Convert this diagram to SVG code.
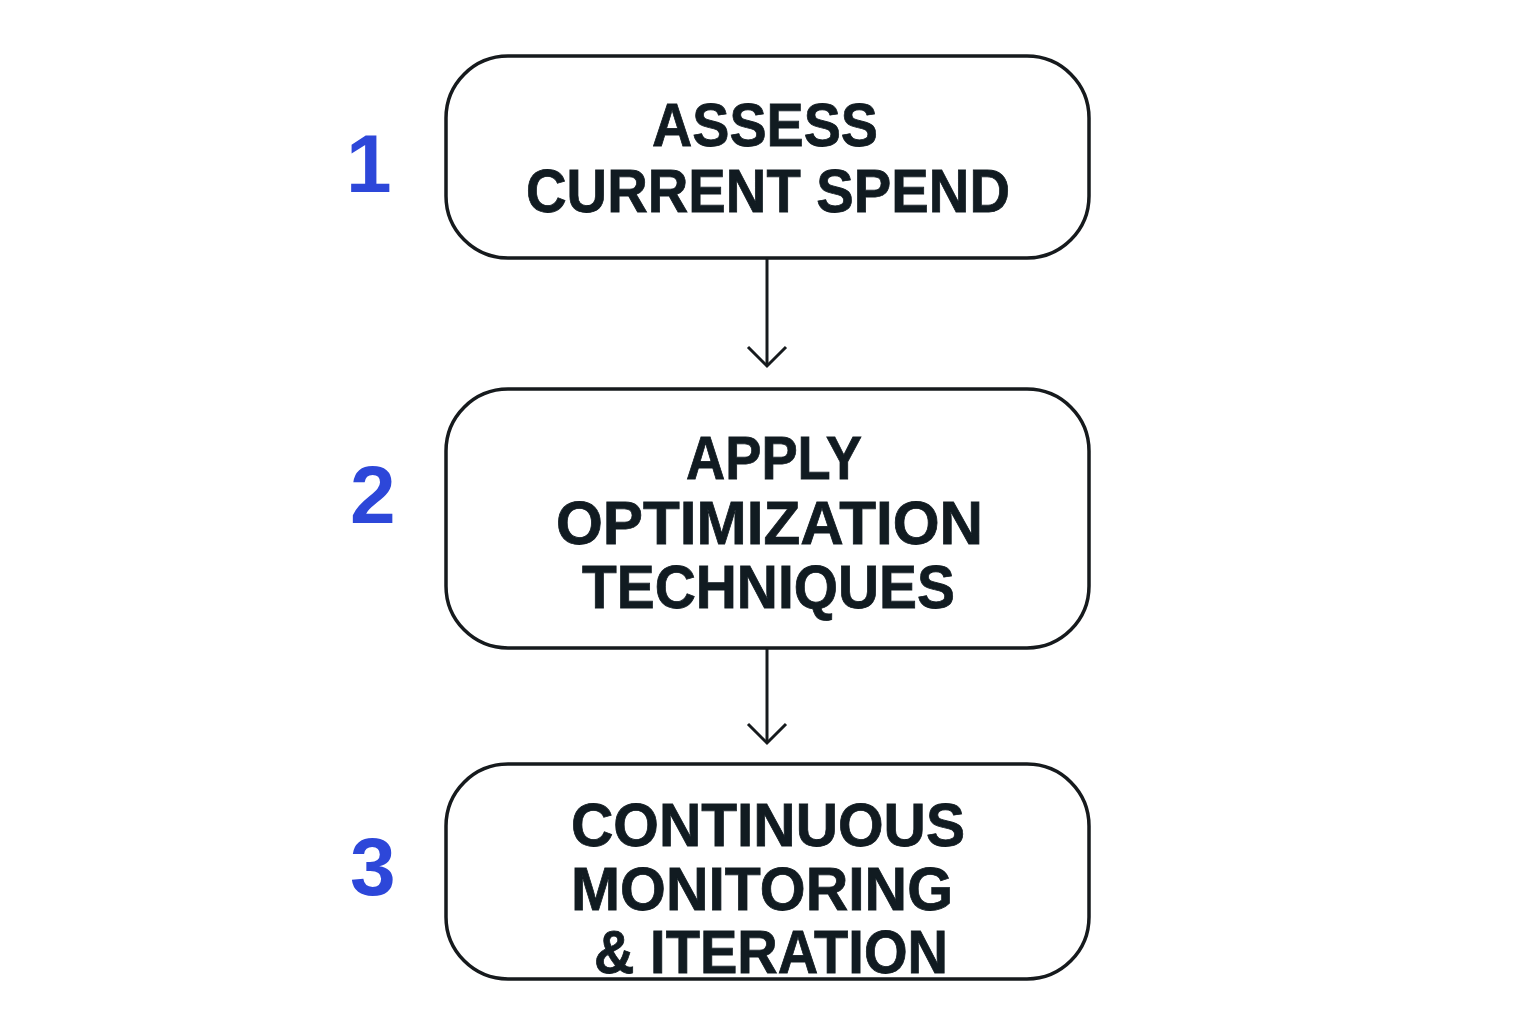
<svg xmlns="http://www.w3.org/2000/svg" width="1536" height="1024" viewBox="0 0 1536 1024">
<style>
.box{fill:#fff;stroke:#161a1d;stroke-width:3.5}
.lbl{font-family:"Liberation Sans",Arial,sans-serif;font-weight:700;font-size:61px;fill:#111b21;stroke:#111b21;stroke-width:0.8}
.num{font-family:"Liberation Sans",Arial,sans-serif;font-weight:700;font-size:82px;fill:#2d47d9}
.conn{stroke:#161a1d;stroke-width:3;fill:none}
</style>
<rect width="1536" height="1024" fill="#fff"/>
<g id="connectors">
<line class="conn" x1="767" y1="258" x2="767" y2="366"/>
<polyline class="conn" points="748,347 767,366 786,347"/>
<line class="conn" x1="767" y1="648" x2="767" y2="743"/>
<polyline class="conn" points="748,724 767,743 786,724"/>
</g>
<g id="node1">
<rect class="box" x="446" y="56" width="643" height="202" rx="62"/>
<text class="lbl" x="652" y="146" textLength="226" lengthAdjust="spacingAndGlyphs">ASSESS</text>
<text class="lbl" x="526" y="212" textLength="484" lengthAdjust="spacingAndGlyphs">CURRENT SPEND</text>
<text class="num" x="346" y="192">1</text>
</g>
<g id="node2">
<rect class="box" x="446" y="389" width="643" height="259" rx="62"/>
<text class="lbl" x="686" y="479" textLength="176" lengthAdjust="spacingAndGlyphs">APPLY</text>
<text class="lbl" x="556" y="544" textLength="427" lengthAdjust="spacingAndGlyphs">OPTIMIZATION</text>
<text class="lbl" x="582" y="608" textLength="373" lengthAdjust="spacingAndGlyphs">TECHNIQUES</text>
<text class="num" x="350" y="523">2</text>
</g>
<g id="node3">
<rect class="box" x="446" y="764" width="643" height="215" rx="62"/>
<text class="lbl" x="571" y="846" textLength="394" lengthAdjust="spacingAndGlyphs">CONTINUOUS</text>
<text class="lbl" x="571" y="910" textLength="382" lengthAdjust="spacingAndGlyphs">MONITORING</text>
<text class="lbl" x="594" y="973" textLength="354" lengthAdjust="spacingAndGlyphs">&amp; ITERATION</text>
<text class="num" x="350" y="895">3</text>
</g>
</svg>
